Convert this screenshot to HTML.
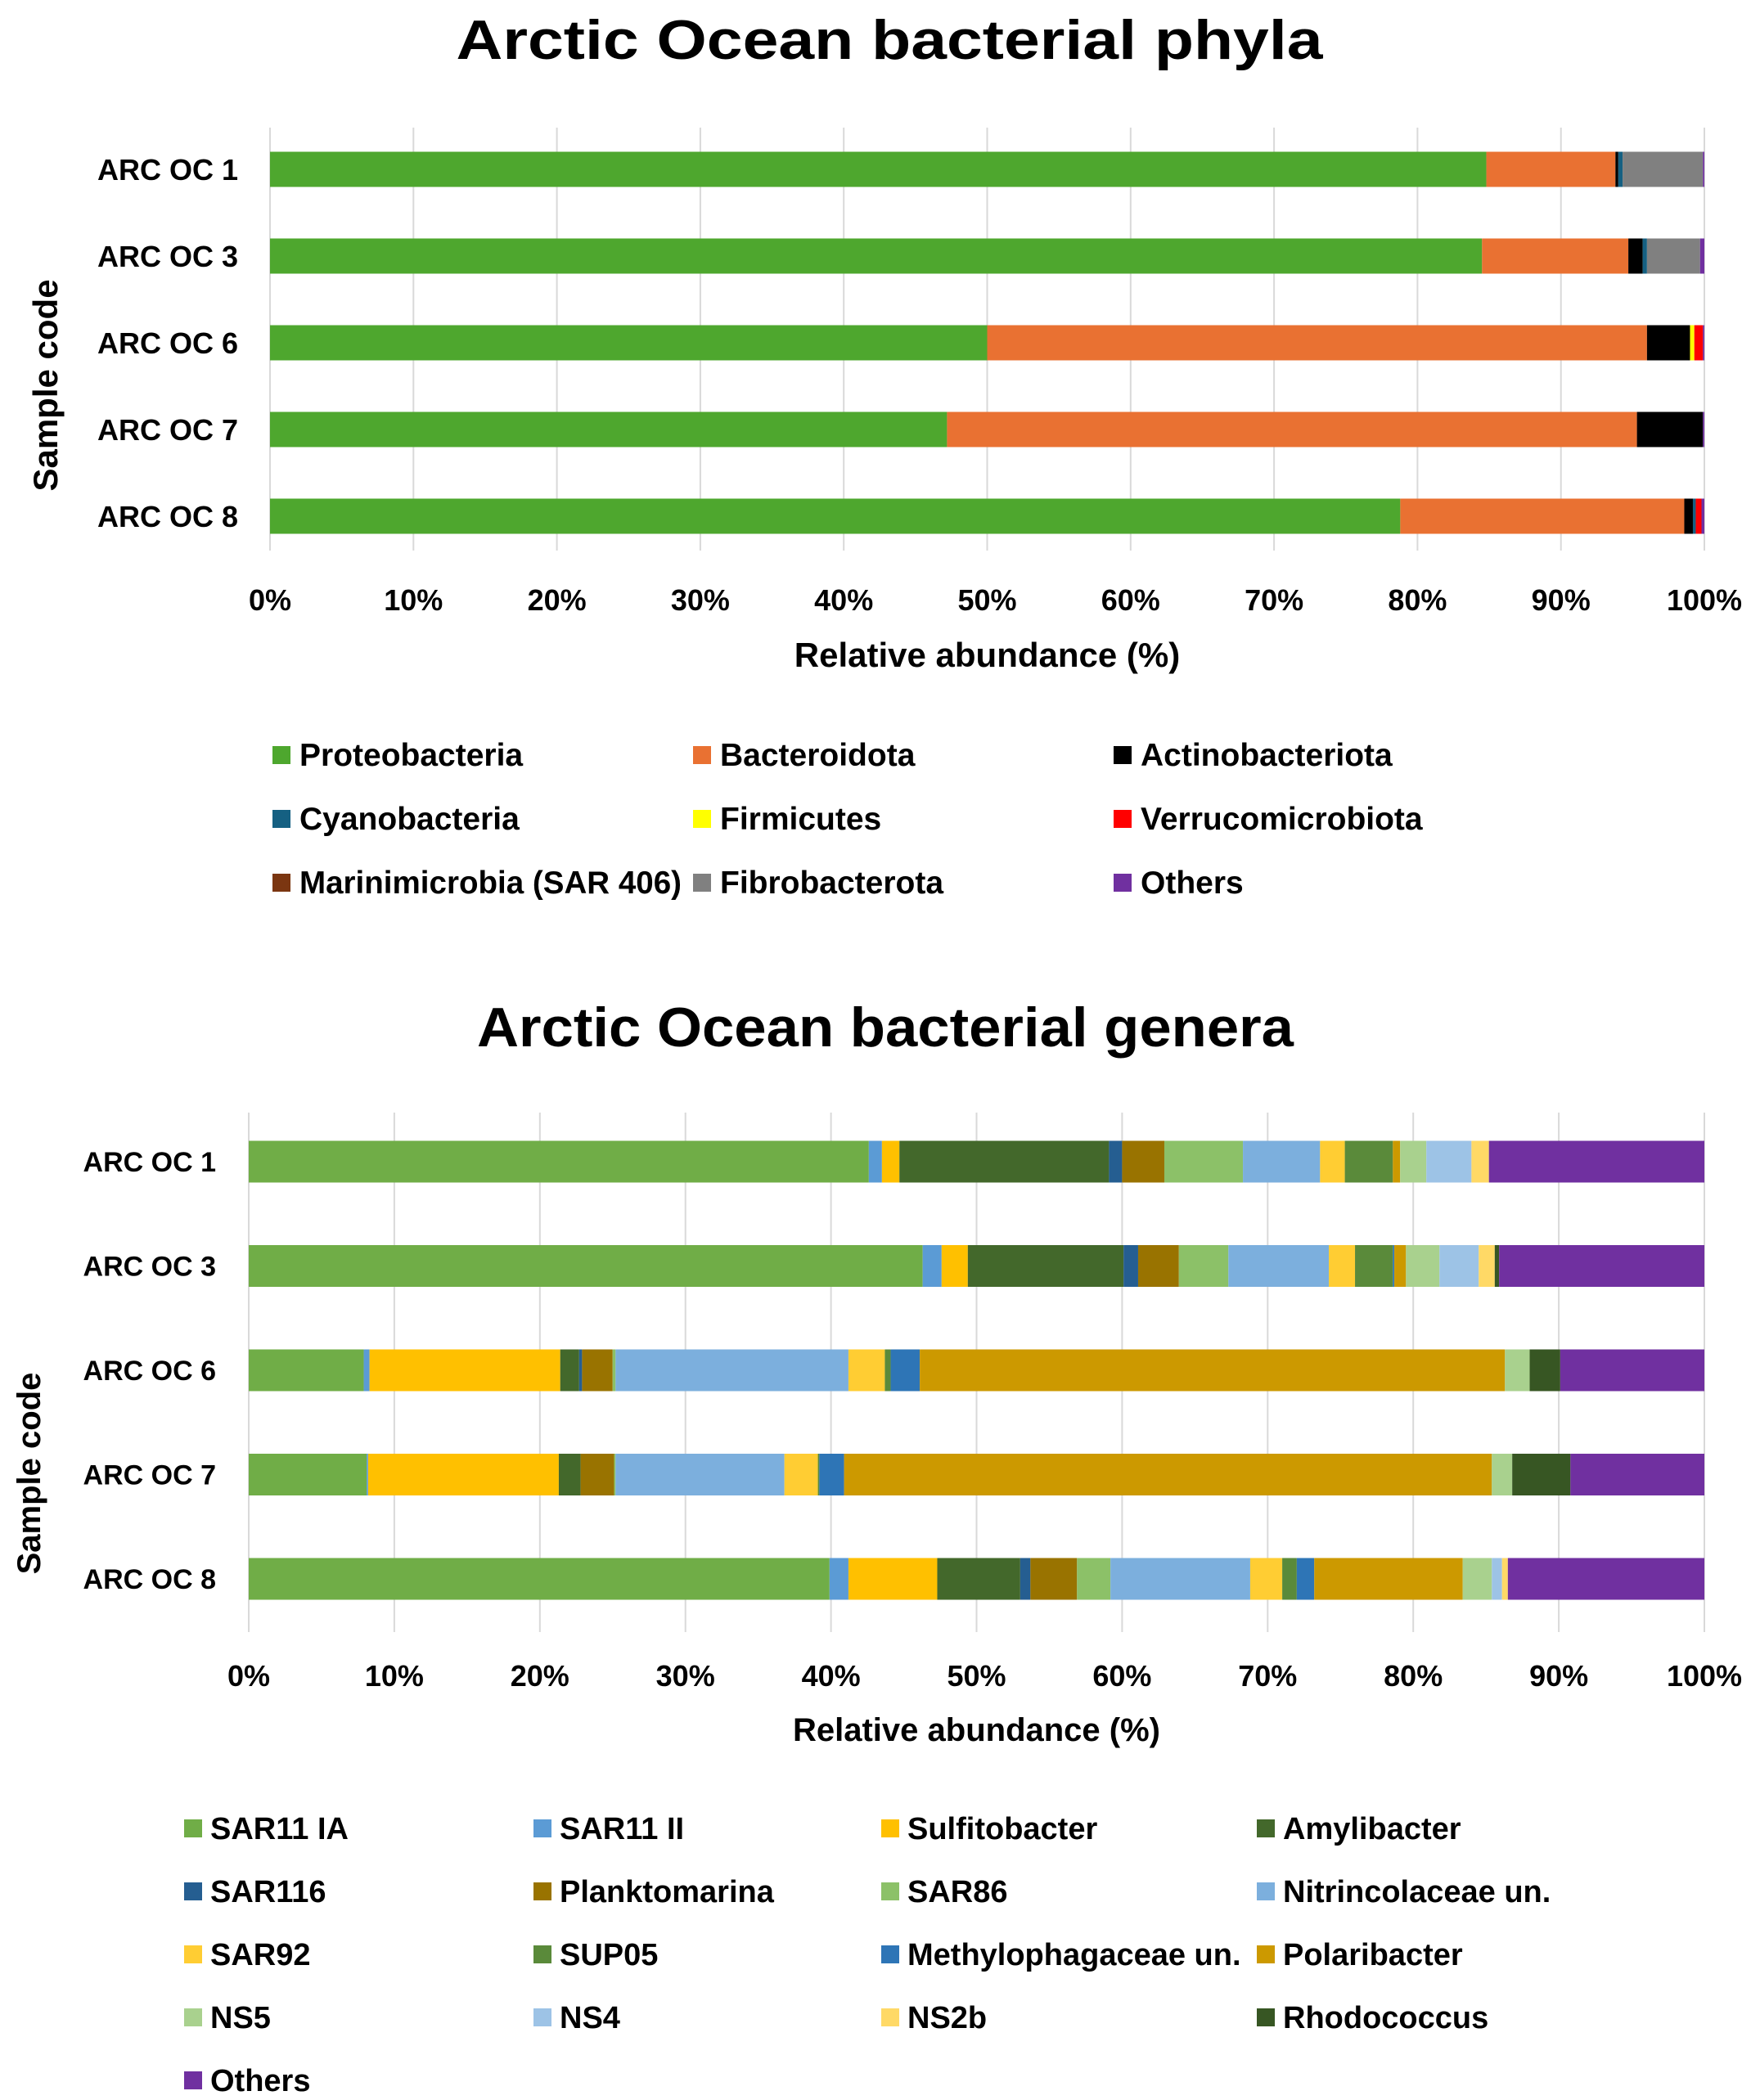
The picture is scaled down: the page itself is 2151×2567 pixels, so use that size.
<!DOCTYPE html>
<html><head><meta charset="utf-8"><style>
html,body{margin:0;padding:0;background:#fff;}
svg{display:block;font-family:"Liberation Sans",sans-serif;}
</style></head><body>
<svg id="root" width="2151" height="2567" viewBox="0 0 2151 2567" xmlns="http://www.w3.org/2000/svg">
<text x="1087" y="72" text-anchor="middle" font-size="68" font-weight="bold" textLength="1059" lengthAdjust="spacingAndGlyphs">Arctic Ocean bacterial phyla</text>
<text x="1082" y="1279" text-anchor="middle" font-size="68" font-weight="bold" textLength="998" lengthAdjust="spacingAndGlyphs">Arctic Ocean bacterial genera</text>
<g id="c1"></g>
<g id="c2"></g>
</svg>
<script>
const samples = ["ARC OC 1","ARC OC 3","ARC OC 6","ARC OC 7","ARC OC 8"];
const ticks = ["0%","10%","20%","30%","40%","50%","60%","70%","80%","90%","100%"];
const phyla = ["Proteobacteria","Bacteroidota","Actinobacteriota","Cyanobacteria","Firmicutes","Verrucomicrobiota","Marinimicrobia (SAR 406)","Fibrobacterota","Others"];
const phylaColors = ["#4EA72E","#E97132","#000000","#156082","#FFFF00","#FF0000","#7B3611","#808080","#7030A0"];
const proteo = [84.8,84.5,50.0,47.2,78.8];
const bactero = [9.0,10.2,46.0,48.1,19.8];
const actino = [0.2,1.0,3.0,4.6,0.6];
const cyano = [0.3,0.3,0.0,0.0,0.2];
const firmi = [0.0,0.0,0.3,0.0,0.0];
const verruco = [0.0,0.0,0.6,0.0,0.4];
const marini = [0.0,0.0,0.0,0.0,0.0];
const fibro = [5.6,3.7,0.0,0.0,0.0];
const othersP = [0.1,0.3,0.1,0.1,0.2];
const phylaData = [proteo,bactero,actino,cyano,firmi,verruco,marini,fibro,othersP];

const genera = ["SAR11 IA","SAR11 II","Sulfitobacter","Amylibacter","SAR116","Planktomarina","SAR86","Nitrincolaceae un.","SAR92","SUP05","Methylophagaceae un.","Polaribacter","NS5","NS4","NS2b","Rhodococcus","Others"];
const generaColors = ["#70AD47","#5B9BD5","#FFC000","#43682B","#255E91","#997300","#8CC168","#7CAFDD","#FFCD33","#5A8A3A","#2E75B6","#CC9900","#A9D18E","#9DC3E6","#FFD966","#375623","#7030A0"];
const sar11ia = [42.6,46.3,7.9,8.1,39.9];
const sar11ii = [0.9,1.3,0.4,0.1,1.3];
const sulfito = [1.2,1.8,13.1,13.1,6.1];
const amyli = [14.4,10.7,1.3,1.5,5.7];
const sar116 = [0.9,1.0,0.2,0.0,0.7];
const plankto = [2.9,2.8,2.1,2.3,3.2];
const sar86 = [5.4,3.4,0.2,0.1,2.3];
const nitrin = [5.3,6.9,16.0,11.6,9.6];
const sar92 = [1.7,1.8,2.5,2.3,2.2];
const sup05 = [3.3,2.6,0.4,0.1,1.0];
const methylo = [0.0,0.1,2.0,1.7,1.2];
const polari = [0.5,0.8,40.2,44.5,10.2];
const ns5 = [1.8,2.3,1.7,1.4,2.0];
const ns4 = [3.1,2.7,0.0,0.0,0.7];
const ns2b = [1.2,1.1,0.0,0.0,0.4];
const rhodo = [0.0,0.3,2.1,4.0,0.0];
const othersG = [14.8,14.1,9.9,9.2,13.5];
const generaData = [sar11ia,sar11ii,sulfito,amyli,sar116,plankto,sar86,nitrin,sar92,sup05,methylo,polari,ns5,ns4,ns2b,rhodo,othersG];

const NS="http://www.w3.org/2000/svg";
function mk(parent,tag,attrs,text){const e=document.createElementNS(NS,tag);for(const k in attrs)e.setAttribute(k,attrs[k]);if(text!==undefined)e.textContent=text;parent.appendChild(e);return e;}

function chart(g,cfg){
  const xs=v=>cfg.x0+(cfg.x1-cfg.x0)*v/100;
  const ys=i=>cfg.yc[0]+i*(cfg.yc[1]-cfg.yc[0]);
  ticks.forEach((t,i)=>{
    const x=xs(i*10);
    const l=mk(g,'line',{x1:x,x2:x,y1:cfg.gt,y2:cfg.gb,stroke:'#d9d9d9','stroke-width':2});
    
    
    const tx=mk(g,'text',{x:x,y:cfg.ty,'text-anchor':'middle','font-size':cfg.tfs,'font-weight':'bold'},t);
    
    
  });
  samples.forEach((s,i)=>{
    const yc=ys(i);
    let acc=0;
    cfg.data.forEach((arr,k)=>{
      const v=arr[i];
      if(v>0){
        const r=mk(g,'rect',{x:xs(acc),y:yc-cfg.bh/2,width:xs(acc+v)-xs(acc),height:cfg.bh,fill:cfg.colors[k]});
        
        
      }
      acc+=v;
    });
    const lb=mk(g,'text',{x:cfg.lx,y:yc+cfg.fs*0.36,'text-anchor':'end','font-size':cfg.fs,'font-weight':'bold'},s);
    
    
  });
  const xt=mk(g,'text',{x:(cfg.x0+cfg.x1)/2,y:cfg.xty,'text-anchor':'middle','font-size':cfg.afs,'font-weight':'bold'},'Relative abundance (%)');
  
  
  const yt=mk(g,'text',{x:0,y:0,transform:`translate(${cfg.ytx},${cfg.yty}) rotate(-90)`,'text-anchor':'middle','font-size':cfg.afs,'font-weight':'bold'},'Sample code');
  
  
  cfg.names.forEach((n,k)=>{
    const col=k%cfg.cols.length,row=Math.floor(k/cfg.cols.length);
    const y=cfg.rows[0]+row*(cfg.rows[1]-cfg.rows[0]);
    const sq=mk(g,'rect',{x:cfg.cols[col],y:y-11,width:22,height:22,fill:cfg.colors[k]});
    
    
    const tx0=cfg.cols[col]+cfg.tOff;
    const t=mk(g,'text',{x:tx0,y:y+13,'font-size':cfg.lfs,'font-weight':'bold'},n);
    
    
    const next = col+1<cfg.cols.length ? cfg.cols[col+1] : 2140;
    const maxW = next - tx0 - 14;
    const w = t.getComputedTextLength();
    if (w > maxW) { t.setAttribute('textLength', maxW); t.setAttribute('lengthAdjust','spacingAndGlyphs'); }
  });
}
chart(document.getElementById('c1'),{x0:330,x1:2083,gt:156,gb:673,yc:[207,313],bh:43,ty:746,fs:36,tfs:36,afs:42,xty:815,lx:291,ytx:70,yty:471,data:phylaData,colors:phylaColors,names:phyla,cols:[333,847,1361],rows:[923,1001],tOff:33,lfs:39});
chart(document.getElementById('c2'),{x0:304,x1:2083,gt:1360,gb:1995,yc:[1420,1547.5],bh:51,ty:2061,fs:34,tfs:36,afs:40,xty:2128,lx:264,ytx:49,yty:1801,data:generaData,colors:generaColors,names:genera,cols:[225,652,1077,1536],rows:[2235,2312],tOff:32,lfs:38});
</script>
</body></html>
